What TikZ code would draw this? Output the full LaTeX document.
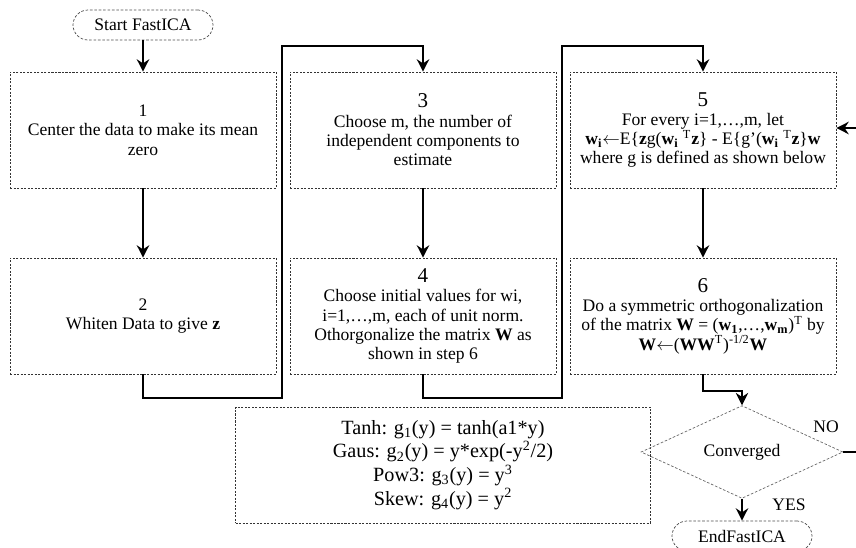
\documentclass[tikz,border=0pt]{standalone}
\usepackage{fontspec}
\setmainfont{Liberation Serif}
\usetikzlibrary{arrows.meta,shapes.geometric}

\tikzset{
  box/.style={draw=black!80, line width=0.4pt, dash pattern=on 1.2pt off 0.8pt,
    minimum width=5.32cm, minimum height=2.32cm, align=center, font=\fontsize{10}{11}\selectfont},
  term/.style={draw=black!70, line width=0.4pt, dash pattern=on 1.5pt off 1pt,
    rounded corners=0.3cm, minimum width=2.8cm, minimum height=0.6cm, font=\fontsize{10}{11}\selectfont},
  flow/.style={line width=1.4pt, -{Stealth[length=7pt,width=7pt]}},
  line/.style={line width=1.4pt}
}

\begin{document}
\begin{tikzpicture}[x=0.02cm,y=-0.02cm]
  \useasboundingbox (0,0) rectangle (856,548);

  \node[term] (start) at (143,25) {Start FastICA};

  \node[box] (b1) at (143,130) {1\\Center the data to make its mean\\zero};
  \node[box] (b2) at (143,316) {2\\Whiten Data to give \textbf{z}};
  \node[box] (b3) at (423,130) {{\large 3}\\Choose m, the number of\\independent components to\\estimate};
  \node[box] (b4) at (423,316) {{\large 4}\\Choose initial values for wi,\\i=1,\dots,m, each of unit norm.\\Othorgonalize the matrix \textbf{W} as\\shown in step 6};
  \node[box] (b5) at (703,130) {{\large 5}\\For every i=1,\dots,m, let\\\textbf{w\textsubscript{i}}$\leftarrow$E\{\textbf{z}g(\textbf{w\textsubscript{i}} \textsuperscript{T}\textbf{z}\} - E\{g'(\textbf{w\textsubscript{i}} \textsuperscript{T}\textbf{z}\}\textbf{w}\\where g is defined as shown below};
  \node[box] (b6) at (703,316) {{\large 6}\\Do a symmetric orthogonalization\\of the matrix \textbf{W} = (\textbf{w\textsubscript{1}},\dots,\textbf{w\textsubscript{m}})\textsuperscript{T} by\\\textbf{W}$\leftarrow$(\textbf{WW}\textsuperscript{T})\textsuperscript{-1/2}\textbf{W}};

  \node[box, minimum width=8.3cm, font=\fontsize{11.5}{13.5}\selectfont] (gfun) at (443,465)
    {Tanh: g\textsubscript{1}(y) = tanh(a1*y)\\Gaus: g\textsubscript{2}(y) = y*exp(-y\textsuperscript{2}/2)\\Pow3: g\textsubscript{3}(y) = y\textsuperscript{3}\\Skew: g\textsubscript{4}(y) = y\textsuperscript{2}};

  \node[diamond, draw=black!60, line width=0.4pt, dash pattern=on 1.5pt off 1pt, inner sep=0pt,
    minimum width=4.04cm, minimum height=1.82cm, font=\fontsize{10}{11}\selectfont] (conv) at (742,452) {Converged};
  \node[term] (stop) at (742,536) {EndFastICA};

  \coordinate (noout) at (856,452);
  \coordinate (noin) at (856,128);

  \draw[flow] (start) -- (b1);
  \draw[flow] (b1) -- (b2);
  \draw[flow] (b2.south) |- (282,398) |- (423,46) -- (b3.north);
  \draw[flow] (b3) -- (b4);
  \draw[flow] (b4.south) |- (562,398) |- (703,46) -- (b5.north);
  \draw[flow] (b5) -- (b6);
  \draw[flow] (b6.south) |- (742,391) -- (conv.north);
  \draw[line] (conv.east) -- (noout);
  \draw[flow] (noin) -- (b5.east |- noin);
  \draw[flow] (conv.south) -- (stop.north);

  \node[font=\fontsize{10}{11}\selectfont] at (826,427) {NO};
  \node[font=\fontsize{10}{11}\selectfont] at (789,505) {YES};

\end{tikzpicture}
\end{document}
